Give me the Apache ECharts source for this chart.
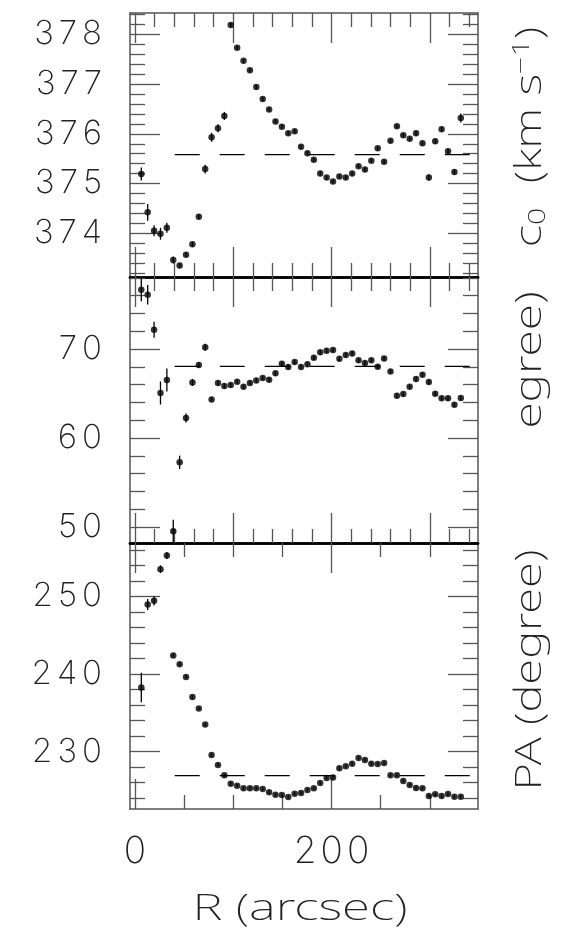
<!DOCTYPE html>
<html>
<head>
<meta charset="utf-8">
<script src="https://cdn.jsdelivr.net/npm/echarts@6/dist/echarts.min.js"></script>
<style>
  html, body { margin: 0; padding: 0; background: #fff; }
  #chart { width: 567px; height: 937px; }
</style>
</head>
<body>
<div id="chart"></div>
<script>
// ring radii (arcsec)
let radius = [6.5, 13, 19.5, 26, 32.5, 39, 45.5, 52, 58.5, 65, 71.5, 78, 84.5, 91, 97.5, 104, 110.5, 117,
  123.5, 130, 136.5, 143, 149.5, 156, 162.5, 169, 175.5, 182, 188.5, 195, 201.5, 208, 214.5, 221, 227.5,
  234, 240.5, 247, 253.5, 260, 266.5, 273, 279.5, 286, 292.5, 299, 305.5, 312, 318.5, 325, 331.5]

// c0 (km/s)
let c0 = [375.19, 374.42, 374.05, 373.99, 374.11, 373.46, 373.35, 373.57, 373.78, 374.33, 375.29, 375.93,
  376.11, 376.36, 378.19, 377.73, 377.47, 377.28, 376.94, 376.70, 376.49, 376.25, 376.14, 376.01, 376.05,
  375.74, 375.61, 375.48, 375.20, 375.12, 375.04, 375.14, 375.12, 375.20, 375.35, 375.28, 375.46, 375.71,
  375.44, 375.86, 376.15, 375.97, 375.90, 376.01, 375.81, 375.12, 375.85, 376.09, 375.65, 375.23, 376.32]
let c0Err = [0.13, 0.17, 0.11, 0.12, 0.1, 0.07, 0.05, 0.05, 0.05, 0.05, 0.09, 0.09, 0.08, 0.08, 0.04, 0.04,
  0.04, 0.04, 0.04, 0.04, 0.04, 0.04, 0.04, 0.04, 0.04, 0.04, 0.04, 0.04, 0.04, 0.04, 0.04, 0.04, 0.04,
  0.04, 0.04, 0.04, 0.04, 0.04, 0.04, 0.04, 0.04, 0.04, 0.04, 0.05, 0.05, 0.06, 0.05, 0.05, 0.05, 0.05, 0.09]

// inclination (degree)
let incl = [76.67, 76.10, 72.17, 65.06, 66.52, 49.51, 57.27, 62.25, 66.25, 68.20, 70.19, 64.34, 66.18, 65.84,
  65.96, 66.33, 65.77, 66.18, 66.48, 66.74, 66.55, 67.27, 68.35, 67.98, 68.54, 67.98, 68.28, 69.03, 69.63,
  69.81, 69.89, 68.91, 69.33, 69.51, 68.73, 68.43, 68.73, 68.01, 68.95, 67.49, 64.76, 64.94, 65.77, 66.63,
  67.12, 66.29, 64.98, 64.46, 64.46, 63.75, 64.49]
let inclErr = [1.3, 1.1, 0.9, 1.3, 1.3, 1.3, 0.75, 0.5, 0.4, 0.3, 0.4, 0.25, 0.25, 0.25, 0.25, 0.25, 0.25,
  0.25, 0.25, 0.25, 0.25, 0.25, 0.25, 0.25, 0.25, 0.25, 0.25, 0.25, 0.25, 0.25, 0.25, 0.25, 0.25, 0.25, 0.25,
  0.25, 0.25, 0.25, 0.25, 0.25, 0.25, 0.25, 0.25, 0.25, 0.25, 0.25, 0.25, 0.25, 0.25, 0.25, 0.25]

// position angle (degree)
let pa = [238.26, 248.97, 249.44, 253.53, 255.29, 242.39, 241.27, 239.63, 237.05, 235.55, 233.48, 229.57,
  228.28, 226.95, 225.87, 225.61, 225.27, 225.27, 225.27, 225.18, 224.75, 224.45, 224.41, 224.15, 224.58,
  224.67, 225.05, 225.27, 225.96, 226.60, 226.65, 227.85, 228.11, 228.45, 229.18, 228.92, 228.45, 228.41,
  228.54, 226.95, 226.95, 226.22, 225.70, 225.31, 225.27, 224.28, 224.49, 224.28, 224.54, 224.19, 224.19]
let paErr = [1.9, 0.7, 0.6, 0.5, 0.45, 0.2, 0.2, 0.2, 0.2, 0.2, 0.2, 0.2, 0.2, 0.2, 0.2, 0.2, 0.2, 0.2, 0.2,
  0.2, 0.2, 0.2, 0.2, 0.2, 0.2, 0.2, 0.2, 0.2, 0.2, 0.2, 0.2, 0.2, 0.2, 0.2, 0.2, 0.2, 0.2, 0.2, 0.2, 0.2,
  0.2, 0.2, 0.2, 0.2, 0.2, 0.2, 0.2, 0.2, 0.2, 0.2, 0.2]

// dashed reference levels and their extent in R
let refLevel = [375.58, 68.05, 226.9]
let refSpan = [40.5, 344]

// axes
let xRange = [-5, 349]
let xMinor = [20, 40, 60, 80, 120, 140, 160, 180, 220, 240, 260, 280, 320, 340]
let xMajor = [0, 100, 200, 300]
let xMinorLow = [50, 100, 150, 250, 300]
let xMajorLow = [0, 200]
let xLabels = [0, 200]

let c0Range = [373.12, 378.43]
let c0Minor = [373.2, 373.4, 373.6, 373.8, 374.2, 374.4, 374.6, 374.8, 375.2, 375.4, 375.6, 375.8,
  376.2, 376.4, 376.6, 376.8, 377.2, 377.4, 377.6, 377.8, 378.2, 378.4]
let c0Major = [374, 375, 376, 377, 378]

let inclRange = [48.2, 78.1]
let inclMinor = [52, 54, 56, 58, 62, 64, 66, 68, 72, 74, 76, 78]
let inclMajor = [50, 60, 70]

let paRange = [222.6, 256.9]
let paMinor = [224, 226, 228, 232, 234, 236, 238, 242, 244, 246, 248, 252, 254, 256]
let paMajor = [230, 240, 250]

const NUM_FONT = 'Inter, "Noto Sans", sans-serif'
const TITLE_FONT = '"Noto Sans", Inter, sans-serif'
const TEXT_COLOR = '#222'
const TICK = { color: '#555', width: 1.3 }
const FRAME = { color: '#555', width: 1.5 }
const SEP = { color: '#000', width: 2.6 }

let chart = echarts.init(document.getElementById('chart'))
let option = {
  animation: false,
  backgroundColor: '#fff',
  grid: [], xAxis: [], yAxis: [], series: [], graphic: []
}

// wide-set digits like the plotting package's stroke font
function spaced(v) {
  return String(v).split('').map(c => '{d|' + c + '}').join('')
}
function numLabel(values, size, pad, margin) {
  return {
    show: true, customValues: values, margin: margin, formatter: spaced,
    fontSize: size, color: TEXT_COLOR, fontFamily: NUM_FONT, fontWeight: 200,
    rich: {
      d: { fontSize: size, color: TEXT_COLOR, fontFamily: NUM_FONT, fontWeight: 200, padding: [0, pad, 0, pad] }
    }
  }
}

function xAxisOf(g, pos, ticks, len, line, labels) {
  return {
    type: 'value', gridIndex: g, position: pos, min: xRange[0], max: xRange[1],
    axisLine: { show: !!line, onZero: false, lineStyle: line || {} },
    axisTick: { show: true, inside: true, length: len, customValues: ticks, lineStyle: TICK },
    axisLabel: labels ? numLabel(labels, 37, 2, 24) : { show: false },
    splitLine: { show: false }
  }
}

function yAxisOf(g, pos, range, ticks, len, line, labels) {
  return {
    type: 'value', gridIndex: g, position: pos, min: range[0], max: range[1],
    axisLine: { show: !!line, onZero: false, lineStyle: line || {} },
    axisTick: { show: true, inside: true, length: len, customValues: ticks, lineStyle: TICK },
    axisLabel: labels ? numLabel(labels, 33, 2.5, 25.5) : { show: false },
    splitLine: { show: false }
  }
}

function addPanel(p) {
  let g = option.grid.length
  option.grid.push({ left: 130, right: 89, top: p.top, height: p.height })
  let xi = option.xAxis.length
  let yi = option.yAxis.length
  option.xAxis.push(
    xAxisOf(g, 'bottom', p.xMinor, 14, p.bottomLine, p.xLabels),
    xAxisOf(g, 'bottom', p.xMajor, 30, null, null),
    xAxisOf(g, 'top', p.xMinor, 14, p.topLine, null),
    xAxisOf(g, 'top', p.xMajor, 30, null, null)
  )
  option.yAxis.push(
    yAxisOf(g, 'left', p.range, p.yMinor, 15, FRAME, p.yMajor),
    yAxisOf(g, 'left', p.range, p.yMajor, 30, null, null),
    yAxisOf(g, 'right', p.range, p.yMinor, 15, FRAME, null),
    yAxisOf(g, 'right', p.range, p.yMajor, 30, null, null)
  )
  option.series.push({
    type: 'line', xAxisIndex: xi, yAxisIndex: yi, silent: true,
    data: [[refSpan[0], p.ref], [refSpan[1], p.ref]],
    symbol: 'none',
    lineStyle: { color: '#000', width: 1.3, type: [25, 20] }
  })
  option.series.push({
    type: 'custom', xAxisIndex: xi, yAxisIndex: yi, silent: true,
    data: radius.map((r, i) => [r, p.values[i] - p.errors[i], p.values[i] + p.errors[i]]),
    encode: { x: 0, y: [1, 2] },
    renderItem: (params, api) => {
      let a = api.coord([api.value(0), api.value(1)])
      let b = api.coord([api.value(0), api.value(2)])
      return {
        type: 'line',
        shape: { x1: a[0], y1: a[1], x2: b[0], y2: b[1] },
        style: { stroke: '#000', lineWidth: 1.3 }
      }
    }
  })
  option.series.push({
    type: 'scatter', xAxisIndex: xi, yAxisIndex: yi, silent: true,
    data: radius.map((r, i) => [r, p.values[i]]),
    symbol: 'circle', symbolSize: 6.5,
    itemStyle: { color: '#000' }
  })
}

addPanel({
  top: 13, height: 264, range: c0Range, yMinor: c0Minor, yMajor: c0Major,
  xMinor: xMinor, xMajor: xMajor, topLine: FRAME, bottomLine: SEP,
  values: c0, errors: c0Err, ref: refLevel[0]
})
addPanel({
  top: 277, height: 266, range: inclRange, yMinor: inclMinor, yMajor: inclMajor,
  xMinor: xMinor, xMajor: xMajor, topLine: SEP, bottomLine: SEP,
  values: incl, errors: inclErr, ref: refLevel[1]
})
addPanel({
  top: 543, height: 266, range: paRange, yMinor: paMinor, yMajor: paMajor,
  xMinor: xMinorLow, xMajor: xMajorLow, topLine: SEP, bottomLine: FRAME, xLabels: xLabels,
  values: pa, errors: paErr, ref: refLevel[2]
})

// axis titles (stretched along the reading direction to match the wide stroke font)
function title(text, x, y, rot, sx, rich) {
  return {
    type: 'text', x: x, y: y, rotation: rot, scaleX: sx,
    style: {
      text: text, fontSize: 37, fontFamily: TITLE_FONT, fontWeight: 200, fill: TEXT_COLOR,
      align: 'center', verticalAlign: 'middle', rich: rich
    }
  }
}
let subSup = {
  sub: { fontSize: 24, fontFamily: TITLE_FONT, fontWeight: 200, fill: TEXT_COLOR, verticalAlign: 'bottom', padding: [16, 0, 0, 0] },
  sup: { fontSize: 24, fontFamily: TITLE_FONT, fontWeight: 200, fill: TEXT_COLOR, verticalAlign: 'top', padding: [0, 0, 14, 0] }
}
option.graphic.push(
  title('c{sub|0}  (km s{sup|−1})', 530, 137, Math.PI / 2, 1.27, subSup),
  title('egree)', 530, 360, Math.PI / 2, 1.3),
  title('PA (degree)', 530, 670, Math.PI / 2, 1.28),
  title('R (arcsec)', 300, 909, 0, 1.38)
)

chart.setOption(option)
</script>
</body>
</html>
